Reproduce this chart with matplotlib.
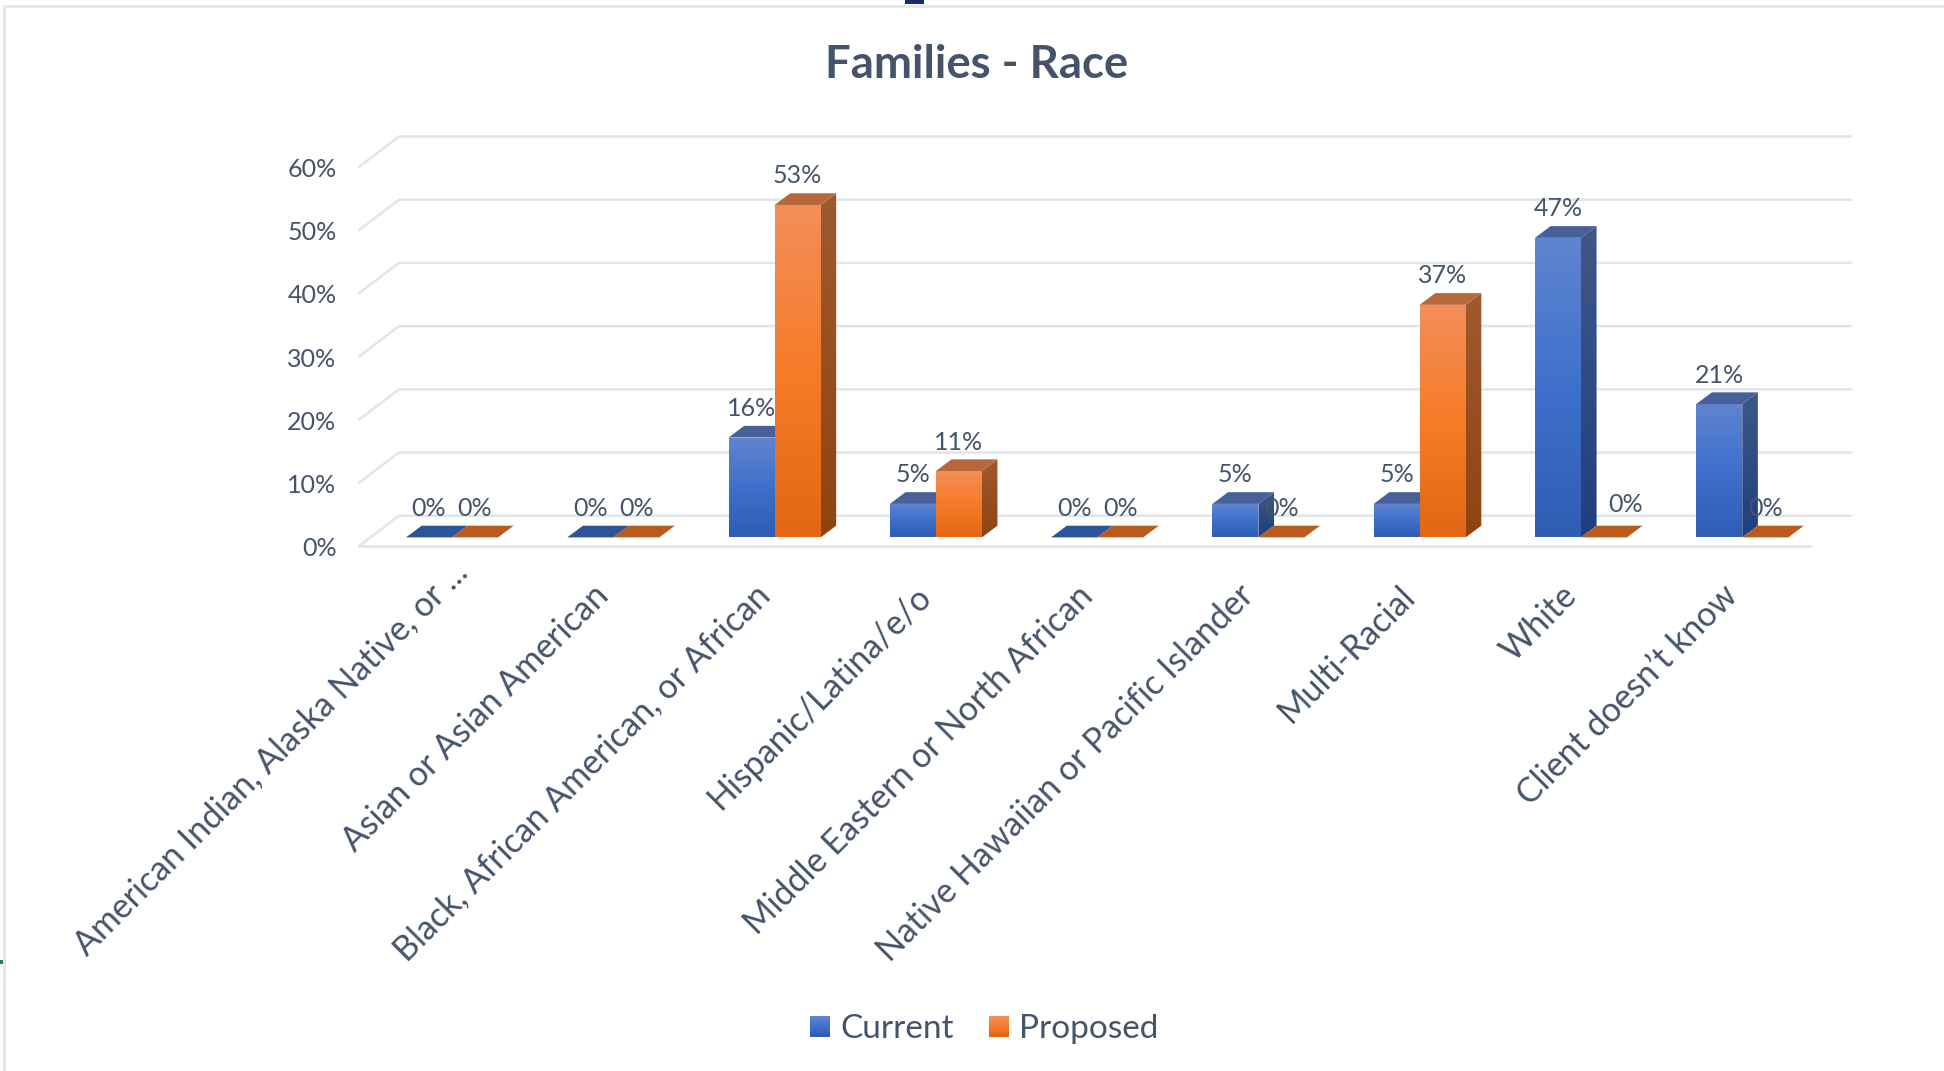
import numpy as np
import matplotlib
matplotlib.use('Agg')
import matplotlib.pyplot as plt
from matplotlib.colors import LinearSegmentedColormap
from matplotlib.legend_handler import HandlerBase
from matplotlib.lines import Line2D
from matplotlib.patches import Polygon, Rectangle
from matplotlib.transforms import ScaledTranslation

categories = ['American Indian, Alaska Native, or ...', 'Asian or Asian American',
              'Black, African American, or African', 'Hispanic/Latina/e/o',
              'Middle Eastern or North African', 'Native Hawaiian or Pacific Islander',
              'Multi-Racial', 'White', 'Client doesn’t know']
current = [0, 0, 15.8, 5.3, 0, 5.3, 5.3, 47.4, 21.1]
proposed = [0, 0, 52.6, 10.5, 0, 0, 36.8, 0, 0]
y_ticks = [0, 10, 20, 30, 40, 50, 60]

W, H = 1944, 1071
TXT = '#44546A'
GRID = '#E1E4EC'
plt.rcParams['font.family'] = ['Lato', 'DejaVu Sans']

# pixel sizes of the fake 3d box
PX_X = 161.3
PX_Y = 6.32
BAR_W = 46 / PX_X
BASE = 8.3 / PX_Y
DEPTH_X = 15.6 / PX_X
DEPTH_Y = 11.7 / PX_Y
BACK_X = 39.5 / PX_X
BACK_Y = 30 / PX_Y
GRID_DX = 1.5 / PX_X

blue = dict(front=['#6085D0', '#3E70CC', '#2E5DB3'], side=['#3F5888', '#1F3F7D'],
            top='#47609A', flat='#2C5498')
orange = dict(front=['#F48E5A', '#F77B28', '#E26614'], side=['#A05A30', '#8F4310'],
              top='#B8673A', flat='#BA5A1C')

fig = plt.figure(figsize=(W / 100, H / 100), dpi=100)
ax = fig.add_axes([358 / W, 1 - 545.7 / H, 1452 / W, (545.7 - 166.5) / H])
ax.set_xlim(-0.583, 8.42)
ax.set_ylim(0, 60)
for s in ax.spines.values():
    s.set_visible(False)
ax.patch.set_visible(False)
xmin, xmax = ax.get_xlim()


def gradient(verts, colors, z):
    xs = [v[0] for v in verts]
    ys = [v[1] for v in verts]
    cmap = LinearSegmentedColormap.from_list('g', colors)
    im = ax.imshow(np.linspace(0, 1, 256).reshape(-1, 1), cmap=cmap, aspect='auto',
                   extent=[min(xs), max(xs), min(ys), max(ys)], zorder=z)
    im.set_clip_path(Polygon(verts, closed=True, transform=ax.transData))


def draw_series(values, offset, style, z):
    x = np.arange(len(values)) + offset
    bars = ax.bar(x, values, BAR_W, bottom=BASE, align='edge', color=style['front'][1], zorder=z)
    for b, v in zip(bars, values):
        x0, x1 = b.get_x(), b.get_x() + BAR_W
        y1 = BASE + v
        top = [(x0, y1), (x1, y1), (x1 + DEPTH_X, y1 + DEPTH_Y), (x0 + DEPTH_X, y1 + DEPTH_Y)]
        if v == 0:
            ax.add_patch(Polygon(top, closed=True, color=style['flat'], lw=0, zorder=z))
            continue
        gradient([(x0, BASE), (x1, BASE), (x1, y1), (x0, y1)], style['front'], z)
        gradient([(x1, BASE), (x1 + DEPTH_X, BASE + DEPTH_Y), (x1 + DEPTH_X, y1 + DEPTH_Y), (x1, y1)],
                 style['side'], z)
        ax.add_patch(Polygon(top, closed=True, color=style['top'], lw=0, zorder=z + 0.1))


# back wall and floor
for t in y_ticks:
    ax.plot([xmin + GRID_DX, xmin + GRID_DX + BACK_X, xmax + GRID_DX + BACK_X], [t, t + BACK_Y, t + BACK_Y],
            color=GRID, lw=1.8, zorder=1, clip_on=False)
ax.plot([xmin + GRID_DX, xmax], [0, 0], color=GRID, lw=1.8, zorder=1, clip_on=False)

draw_series(current, -BAR_W, blue, 3)
draw_series(proposed, 0, orange, 4)

# value labels
for i in range(len(categories)):
    for v, off in ((current[i], -BAR_W / 2), (proposed[i], BAR_W / 2)):
        lx = i + off
        ly = BASE + v + 29 / PX_Y
        if categories[i] == 'White' and off > 0:
            lx += 22 / PX_X
            ly += 3.7 / PX_Y
        ax.text(lx, ly, f'{int(v + 0.5)}%', ha='center', va='center', fontsize=18, color=TXT,
                zorder=6, clip_on=False)

ax.set_xticks(np.arange(len(categories)))
ax.set_xticklabels(categories, rotation=45, ha='right', va='top', rotation_mode='anchor',
                   fontsize=24.4, color=TXT)
ax.set_yticks(y_ticks)
ax.set_yticklabels([f'{t}%' for t in y_ticks], fontsize=18, color=TXT)
ax.tick_params(axis='both', length=0)
ax.tick_params(axis='x', pad=22)
ax.tick_params(axis='y', pad=15.5)
for n, lab in enumerate(ax.get_xticklabels()):
    # the truncated first label sits further along its own slope
    dx, dy = (-0.01, 0.21) if n == 0 else (-0.21, -0.03)
    lab.set_transform(lab.get_transform() + ScaledTranslation(dx, dy, fig.dpi_scale_trans))
for lab in ax.get_yticklabels():
    lab.set_transform(lab.get_transform() + ScaledTranslation(0, -0.01, fig.dpi_scale_trans))

fig.text(977 / W, 1 - 64.5 / H, 'Families - Race', ha='center', va='center', fontsize=32.8,
         fontweight='bold', color=TXT)


class GradHandle(HandlerBase):
    def __init__(self, colors):
        super().__init__()
        self.cmap = LinearSegmentedColormap.from_list('h', colors)

    def create_artists(self, legend, orig, xd, yd, width, height, fontsize, trans):
        n = 12
        out = []
        for k in range(n):
            out.append(Rectangle((xd * -1, -yd + height * (n - 1 - k) / n), width, height / n + 0.3,
                                 color=self.cmap(k / (n - 1)), lw=0, transform=trans))
        return out


h1 = Rectangle((0, 0), 1, 1, label='Current')
h2 = Rectangle((0, 0), 1, 1, label='Proposed')
fig.legend(handles=[h1, h2], loc='center', bbox_to_anchor=(984 / W, 1 - 1029.5 / H), ncol=2, frameon=False,
           fontsize=24, labelcolor=TXT, handlelength=0.6, handleheight=0.6, handletextpad=0.3,
           columnspacing=1.05, handler_map={h1: GradHandle(blue['front']), h2: GradHandle(orange['front'])})

# screenshot leftovers round the edge
fig.add_artist(Line2D([4 / W, 4 / W], [0, 1 - 6 / H], color=GRID, lw=1.8))
fig.add_artist(Line2D([4 / W, 1], [1 - 6 / H, 1 - 6 / H], color=GRID, lw=1.8))
fig.add_artist(Rectangle((905 / W, 1 - 4 / H), 19 / W, 4 / H, color='#1B2A6B', lw=0))
fig.add_artist(Rectangle((0, 1 - 964 / H), 3 / W, 4 / H, color='#1F7A6B', lw=0))

fig.savefig('out.png', dpi=100)
